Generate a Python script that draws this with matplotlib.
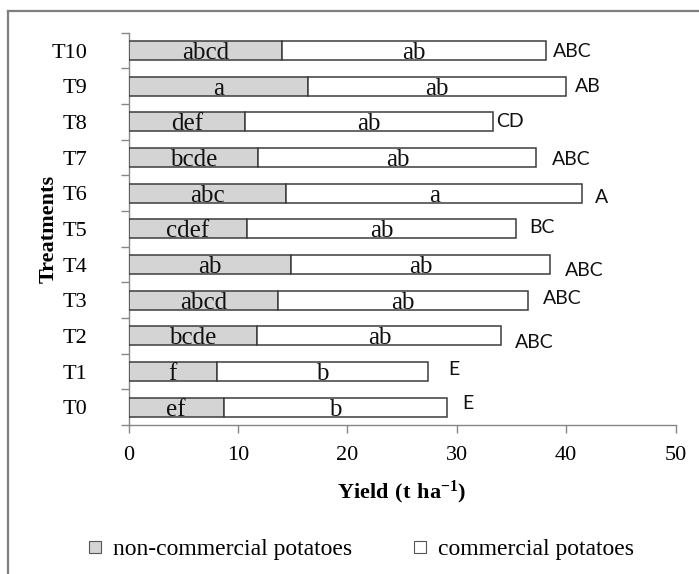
import matplotlib
matplotlib.use("Agg")
import matplotlib.pyplot as plt
from matplotlib.lines import Line2D
import numpy as np

plt.rcParams['font.family'] = ['Liberation Serif', 'DejaVu Serif']
plt.rcParams['mathtext.fontset'] = 'custom'
plt.rcParams['mathtext.rm'] = 'Liberation Serif'
plt.rcParams['mathtext.bf'] = 'Liberation Serif:bold'

# ---- data ----
treatments = ['T0', 'T1', 'T2', 'T3', 'T4', 'T5', 'T6', 'T7', 'T8', 'T9', 'T10']
non_commercial = [8.71, 8.07, 11.79, 13.71, 14.87, 10.81, 14.44, 11.88, 10.69, 16.45, 14.07]
commercial = [20.40, 19.30, 22.29, 22.81, 23.69, 24.64, 27.02, 25.40, 22.61, 23.55, 24.10]
nc_letters = ['ef', 'f', 'bcde', 'abcd', 'ab', 'cdef', 'abc', 'bcde', 'def', 'a', 'abcd']
c_letters = ['b', 'b', 'ab', 'ab', 'ab', 'ab', 'a', 'ab', 'ab', 'ab', 'ab']
total_letters = ['E', 'E', 'ABC', 'ABC', 'ABC', 'BC', 'A', 'ABC', 'CD', 'AB', 'ABC']

# label nudges (pixels): horizontal gap after bar end, vertical shift (down positive)
label_dx = [15, 20, 14, 15, 15, 13, 13, 16, 3, 9, 7]
label_dy = [-4, -2.5, 7, -2, 5.5, -1, 4.5, 2, 0, 0, 1]

W, H = 699, 574
fig = plt.figure(figsize=(W / 100, H / 100), dpi=100)

# border lines (top and left) like the cropped frame
fig.add_artist(Line2D([8 / W, 1], [1 - 10.7 / H, 1 - 10.7 / H], color='#7f7f7f', lw=1.6))
fig.add_artist(Line2D([8 / W, 8 / W], [0, 1 - 10.7 / H], color='#7f7f7f', lw=1.6))

ax_left, ax_right = 128.5 / W, 675.5 / W
ax_top, ax_bot = 1 - 32.7 / H, 1 - 425 / H
ax = fig.add_axes([ax_left, ax_bot, ax_right - ax_left, ax_top - ax_bot])

y = np.arange(len(treatments))
h = 0.53
edge = '#3c3c3c'
ax.barh(y, non_commercial, height=h, color='#d4d4d4', edgecolor=edge, linewidth=1.1, zorder=3)
ax.barh(y, commercial, height=h, left=non_commercial, color='white', edgecolor=edge, linewidth=1.1, zorder=3)

for i in range(len(treatments)):
    nc = non_commercial[i]
    c = commercial[i]
    ax.annotate(nc_letters[i], xy=(nc / 2, y[i]), xytext=(0, -8.5), textcoords='offset pixels',
                ha='center', va='baseline', fontsize=18, color='#111111', zorder=4)
    ax.annotate(c_letters[i], xy=(nc + c / 2, y[i]), xytext=(0, -8.5), textcoords='offset pixels',
                ha='center', va='baseline', fontsize=18, color='#111111', zorder=4)
    ax.annotate(total_letters[i], xy=(nc + c, y[i]), xytext=(label_dx[i], -label_dy[i]),
                textcoords='offset pixels', ha='left', va='center', fontsize=14,
                family=['Lato', 'DejaVu Sans'], color='#111111')

ax.set_xlim(0, 50)
ax.set_ylim(-0.5, len(treatments) - 0.5)
ax.set_xticks([0, 10, 20, 30, 40, 50])
ax.set_yticks(y)
ax.set_yticklabels(treatments)
ax.set_yticks(np.arange(-0.5, len(treatments), 1.0), minor=True)
ax.tick_params(axis='y', which='major', length=0, pad=29.5, labelsize=16)
ax.tick_params(axis='y', which='minor', length=5.5, width=1.0, color='#868686', direction='out')
ax.tick_params(axis='x', which='major', length=5.5, width=1.0, color='#868686', direction='out',
               pad=9.5, labelsize=16)

for s in ['top', 'right']:
    ax.spines[s].set_visible(False)
for s in ['left', 'bottom']:
    ax.spines[s].set_color('#868686')
    ax.spines[s].set_linewidth(1.0)

ax.set_xlabel(r'$\mathbf{Yield\ (t\ ha^{-1})}$', fontsize=16, labelpad=10)
ax.set_ylabel('Treatments', fontsize=16, fontweight='bold')
ax.yaxis.set_label_coords(-70 / (675.5 - 128.5), 0.5)

handles = [
    Line2D([], [], marker='s', linestyle='none', markersize=9, markerfacecolor='#d4d4d4',
           markeredgecolor='#555555', markeredgewidth=0.8),
    Line2D([], [], marker='s', linestyle='none', markersize=9, markerfacecolor='white',
           markeredgecolor='#555555', markeredgewidth=0.8),
]
fig.legend(handles, ['non-commercial potatoes', 'commercial potatoes'], loc='center',
           bbox_to_anchor=(361 / W, 1 - 549 / H), ncol=2, frameon=False, fontsize=17,
           handlelength=0.6, handletextpad=0.45, columnspacing=2.6)

fig.savefig('out.png', dpi=100)
